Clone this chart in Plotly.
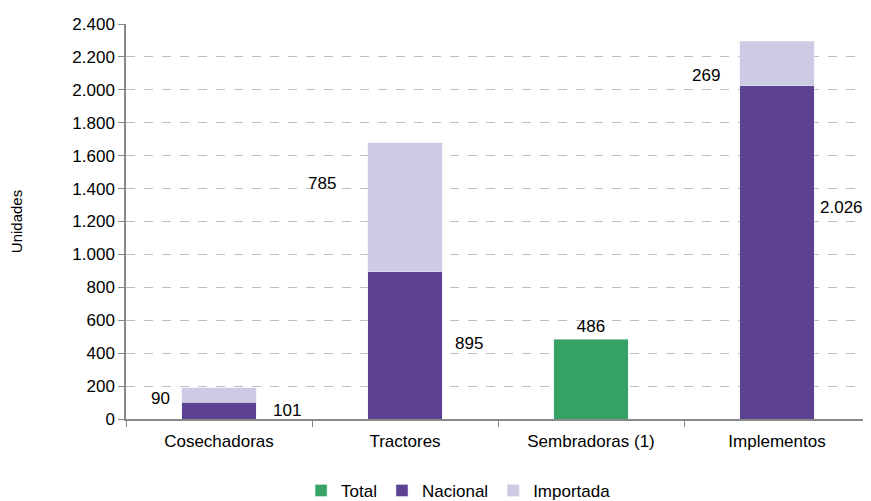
import plotly.graph_objects as go

categories = ["Cosechadoras", "Tractores", "Sembradoras (1)", "Implementos"]
total = [None, None, 486, None]
nacional = [101, 895, None, 2026]
importada = [90, 785, None, 269]
y_ticks = [0, 200, 400, 600, 800, 1000, 1200, 1400, 1600, 1800, 2000, 2200, 2400]
y_tick_text = ["0", "200", "400", "600", "800", "1.000", "1.200", "1.400", "1.600", "1.800", "2.000", "2.200", "2.400"]

def fmt(v):
    return f"{v:,}".replace(",", ".")

font = "Liberation Sans, Arial, sans-serif"
fs = 17
fig = go.Figure()
fig.add_bar(name="Total", x=categories, y=total, marker_color="#36A264",
            text=[fmt(v) if v else "" for v in total], textposition="outside",
            textfont=dict(size=fs, color="black"), cliponaxis=False)
fig.add_bar(name="Nacional", x=categories, y=nacional, marker_color="#5C4092")
fig.add_bar(name="Importada", x=categories, y=importada, marker_color="#CDCAE3")

# labels: importada left, nacional right
imp_xshift = [-59, -83, 0, -71]
imp_yshift = [-4, 24, 0, -12]
nac_xshift = [68, 64, 0, 64]
nac_yshift = [0, 2, 0, 45]
for i, c in enumerate(categories):
    if nacional[i] is not None:
        fig.add_annotation(x=c, y=nacional[i] / 2, text=fmt(nacional[i]), showarrow=False,
                           xshift=nac_xshift[i], yshift=nac_yshift[i],
                           font=dict(size=fs, color="black", family=font))
    if importada[i] is not None:
        fig.add_annotation(x=c, y=nacional[i] + importada[i] / 2, text=fmt(importada[i]), showarrow=False,
                           xshift=imp_xshift[i], yshift=imp_yshift[i],
                           font=dict(size=fs, color="black", family=font))

# page body has an 8px default margin
fig.update_layout(
    barmode="stack", bargap=0.6,
    width=863, height=493,
    margin=dict(l=118, r=1, t=16, b=82, autoexpand=False),
    paper_bgcolor="white", plot_bgcolor="white",
    font=dict(family=font, size=fs, color="black"),
    legend=dict(orientation="h", x=0.447, xanchor="center",
                y=-0.182, yanchor="middle",
                font=dict(size=fs), itemwidth=30, traceorder="normal"),
    showlegend=True,
)
fig.update_xaxes(showline=True, linecolor="#898989", linewidth=1.5, ticks="outside",
                 tickson="boundaries", ticklen=6, tickcolor="#898989",
                 tickfont=dict(size=fs), showgrid=False, ticklabelstandoff=6)
fig.update_yaxes(range=[0, 2400], tickvals=y_ticks, ticktext=y_tick_text,
                 showline=True, linecolor="#898989", linewidth=1.5, ticks="outside",
                 ticklen=6, tickcolor="#898989", showgrid=True, gridcolor="#BFBFBF",
                 griddash="dash", gridwidth=1, zeroline=False,
                 title=dict(text="Unidades", font=dict(size=15), standoff=52),
                 tickfont=dict(size=fs))
fig.write_html("out.html")
